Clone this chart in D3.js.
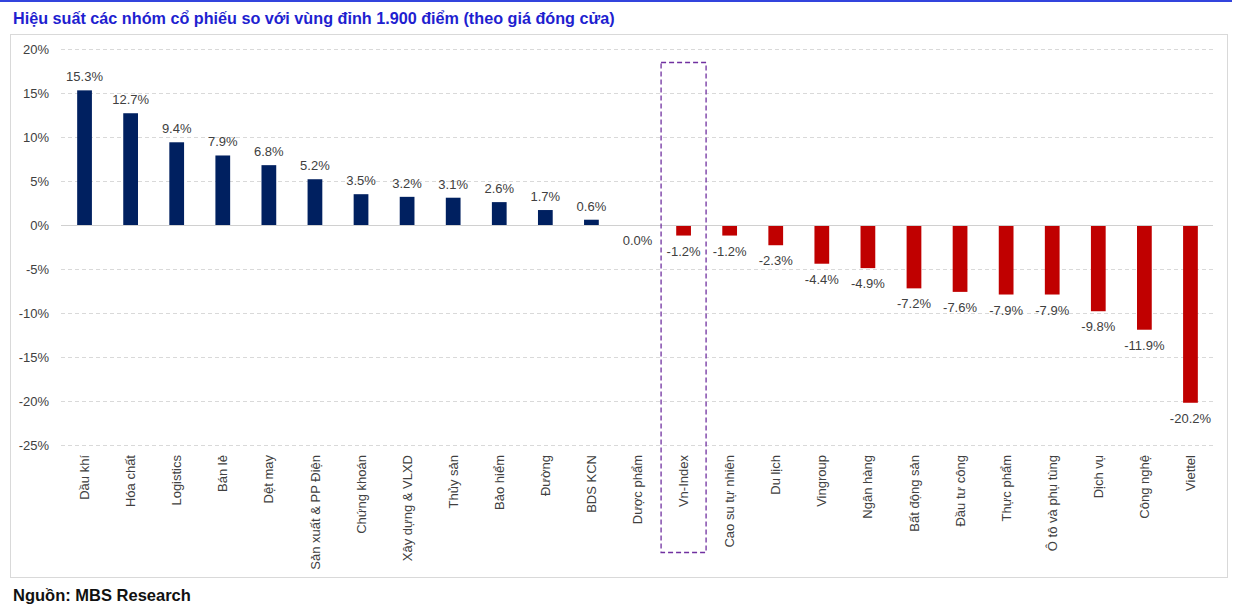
<!DOCTYPE html>
<html>
<head>
<meta charset="utf-8">
<script src="https://cdn.jsdelivr.net/npm/d3@7"></script>
<style>
  body { margin: 0; background: #fff; }
  text { font-family: "Liberation Sans", Arial, sans-serif; }
</style>
</head>
<body>
<div id="chart"></div>
<script>
let sectors = ['Dầu khí','Hóa chất','Logistics','Bán lẻ','Dệt may','Sản xuất & PP Điện','Chứng khoán',
  'Xây dựng & VLXD','Thủy sản','Bảo hiểm','Đường','BDS KCN','Dược phẩm','Vn-Index','Cao su tự nhiên',
  'Du lịch','Vingroup','Ngân hàng','Bất động sản','Đầu tư công','Thực phẩm','Ô tô và phụ tùng',
  'Dịch vụ','Công nghệ','Viettel'];
let perf = [15.3,12.7,9.4,7.9,6.8,5.2,3.5,3.2,3.1,2.6,1.7,0.6,0.0,-1.2,-1.2,-2.3,-4.4,-4.9,-7.2,-7.6,-7.9,-7.9,-9.8,-11.9,-20.2];
let yTicks = [20,15,10,5,0,-5,-10,-15,-20,-25];
let highlight = 'Vn-Index';

let width = 1239, height = 604;
let textColor = '#404040';

let svg = d3.select("#chart").append("svg")
  .attr('width', width)
  .attr('height', height);

// header rule + title
svg.append("rect").attr("x",0).attr("y",0).attr("width",1232).attr("height",2).attr("fill","#3344dd");
svg.append("text")
  .attr("x",13).attr("y",24)
  .attr("font-size","16.2px").attr("font-weight","bold").attr("fill","#1f1fd0")
  .text("Hiệu suất các nhóm cổ phiếu so với vùng đỉnh 1.900 điểm (theo giá đóng cửa)");

// chart frame
svg.append("rect").attr("x",10.5).attr("y",34.5).attr("width",1217).attr("height",543)
  .attr("fill","none").attr("stroke","#d9d9d9");

let x = d3.scaleBand().domain(sectors).range([61.5,1213.5]).paddingInner(0.68).paddingOuter(0.34);
let y = d3.scaleLinear().domain([-25,20]).range([445,49]);

// gridlines
svg.append("g").selectAll("line").data(yTicks.filter(d=>d!==0)).enter().append("line")
  .attr("x1",61).attr("x2",1213)
  .attr("y1",d=>Math.round(y(d))+0.5).attr("y2",d=>Math.round(y(d))+0.5)
  .attr("stroke","#d9d9d9").attr("stroke-dasharray","4,3");

// y axis labels
let yAxis = d3.axisLeft(y).tickValues(yTicks).tickFormat(d=>d+'%').tickSize(0).tickPadding(0);
let ya = svg.append("g").attr("transform","translate(49,0)").call(yAxis);
ya.select(".domain").remove();
ya.selectAll("text").attr("font-size","13px").attr("fill",textColor)
  .attr("font-family","'Liberation Sans', Arial, sans-serif");

// bars
svg.append("g").selectAll("rect").data(perf).enter().append("rect")
  .attr("x",(d,i)=>x(sectors[i]))
  .attr("width",x.bandwidth())
  .attr("y",d=>y(Math.max(d,0)))
  .attr("height",d=>Math.abs(y(d)-y(0)))
  .attr("fill",d=>d>=0?'#002060':'#c00000');

// zero line
svg.append("line").attr("x1",61).attr("x2",1213)
  .attr("y1",Math.round(y(0))+0.5).attr("y2",Math.round(y(0))+0.5)
  .attr("stroke","#d0d0d0");

// value labels
svg.append("g").selectAll("text").data(perf).enter().append("text")
  .attr("x",(d,i)=>x(sectors[i])+x.bandwidth()/2)
  .attr("y",d=>d>0?y(d)-9:y(d)+20)
  .attr("text-anchor","middle")
  .attr("font-size","13px").attr("fill",textColor)
  .text(d=>d.toFixed(1)+'%');

// category labels
let xAxis = d3.axisBottom(x).tickSize(0).tickPadding(0);
let xa = svg.append("g").attr("transform","translate(0,452)").call(xAxis);
xa.select(".domain").remove();
xa.selectAll("text")
  .attr("font-size","13px").attr("fill",textColor)
  .attr("font-family","'Liberation Sans', Arial, sans-serif")
  .attr("text-anchor","end")
  .attr("transform","rotate(-90)")
  .attr("x",-3).attr("y",0).attr("dy","0.35em");

// highlight box
svg.append("rect")
  .attr("x",x(highlight)+x.bandwidth()/2-22.5).attr("y",62.5)
  .attr("width",45).attr("height",490)
  .attr("fill","none").attr("stroke","#7030a0").attr("stroke-width",1.3)
  .attr("stroke-dasharray","5,3");

// source
svg.append("text").attr("x",13).attr("y",601)
  .attr("font-size","16.5px").attr("font-weight","bold").attr("fill","#111")
  .text("Nguồn: MBS Research");
</script>
</body>
</html>
